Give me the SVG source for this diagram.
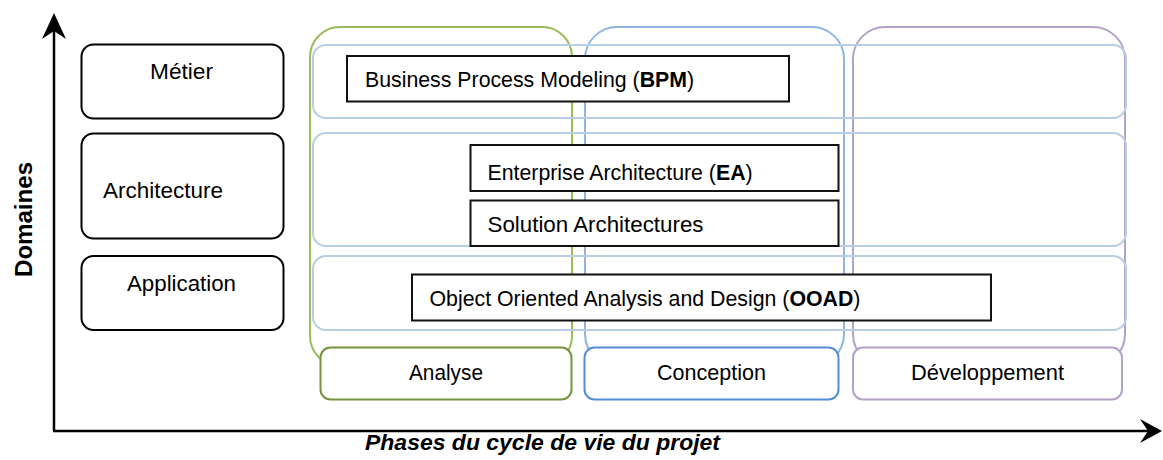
<svg xmlns="http://www.w3.org/2000/svg" width="1163" height="460" viewBox="0 0 1163 460">
<style>
text{font-family:"Liberation Sans",Arial,sans-serif;font-size:22px;fill:#000}
.dom{fill:none;stroke:#000;stroke-width:2}
.col{fill:none;stroke-width:2}
.lane{fill:none;stroke:#b9cde5;stroke-width:2}
.phase{fill:#fff;stroke-width:2}
.tb{fill:#fff;stroke:#111;stroke-width:2}
.axis{stroke:#000;stroke-width:2.5;fill:none}
.b{font-weight:bold}
.in{font-size:21.3px}
</style>
<g id="axes">
<line class="axis" x1="54" y1="431" x2="54" y2="22"/>
<line class="axis" x1="53" y1="431" x2="1152" y2="431"/>
<path d="M54 13 L66 39 L54 31 L42 39 Z" fill="#000"/>
<path d="M1162 431 L1140 443 L1148 431 L1140 419 Z" fill="#000"/>
<text transform="translate(32,219.5) rotate(-90)" text-anchor="middle" textLength="115" lengthAdjust="spacingAndGlyphs" style="font-size:24px;font-weight:bold">Domaines</text>
<text x="365" y="450" textLength="355" lengthAdjust="spacingAndGlyphs" style="font-size:22px;font-weight:bold;font-style:italic">Phases du cycle de vie du projet</text>
</g>
<g id="columns">
<rect id="col-analyse" class="col" x="310" y="27" width="262" height="339" rx="30" stroke="#9bbb59"/>
<rect id="col-conception" class="col" x="585" y="27" width="259" height="339" rx="32" stroke="#8eb4e3"/>
<rect id="col-dev" class="col" x="853" y="27" width="272" height="339" rx="32" stroke="#b3a2c7"/>
</g>
<g id="lanes">
<rect class="lane" x="313" y="45" width="813" height="73" rx="13"/>
<rect class="lane" x="313" y="133" width="813" height="113" rx="13"/>
<rect class="lane" x="313" y="256" width="813" height="74" rx="13"/>
</g>
<g id="metier">
<rect class="dom" x="81.5" y="44.5" width="202" height="74" rx="12"/>
<text x="150" y="79" textLength="63" lengthAdjust="spacingAndGlyphs">Métier</text>
</g>
<g id="architecture">
<rect class="dom" x="81.5" y="133.5" width="202" height="105" rx="12"/>
<text x="103" y="198" textLength="120" lengthAdjust="spacingAndGlyphs">Architecture</text>
</g>
<g id="application">
<rect class="dom" x="81.5" y="256" width="202" height="74" rx="12"/>
<text x="127" y="291" textLength="109" lengthAdjust="spacingAndGlyphs">Application</text>
</g>
<g id="analyse">
<rect class="phase" x="320.5" y="347.5" width="251" height="52" rx="10" stroke="#77933c"/>
<text x="409" y="379.5" textLength="74" lengthAdjust="spacingAndGlyphs">Analyse</text>
</g>
<g id="conception">
<rect class="phase" x="584.5" y="347.5" width="254" height="52" rx="10" stroke="#558ed5"/>
<text x="657" y="379.5" textLength="109" lengthAdjust="spacingAndGlyphs">Conception</text>
</g>
<g id="developpement">
<rect class="phase" x="853" y="347.5" width="269" height="52" rx="10" stroke="#b3a2c7"/>
<text x="911" y="379.5" textLength="153" lengthAdjust="spacingAndGlyphs">Développement</text>
</g>
<g id="bpm">
<rect class="tb" x="347" y="56" width="442" height="45.5"/>
<text class="in" x="365" y="87">Business Process Modeling (<tspan class="b">BPM</tspan>)</text>
</g>
<g id="ea">
<rect class="tb" x="470.5" y="145" width="368" height="46"/>
<text class="in" x="487.5" y="180">Enterprise Architecture (<tspan class="b">EA</tspan>)</text>
</g>
<g id="solution">
<rect class="tb" x="470.5" y="200.5" width="368" height="45.5"/>
<text x="487.5" y="231.5" textLength="216" lengthAdjust="spacingAndGlyphs">Solution Architectures</text>
</g>
<g id="ooad">
<rect class="tb" x="412" y="274.5" width="579" height="46"/>
<text class="in" x="429.5" y="305.5">Object Oriented Analysis and Design (<tspan class="b">OOAD</tspan>)</text>
</g>
<g id="connectors"></g>
</svg>
